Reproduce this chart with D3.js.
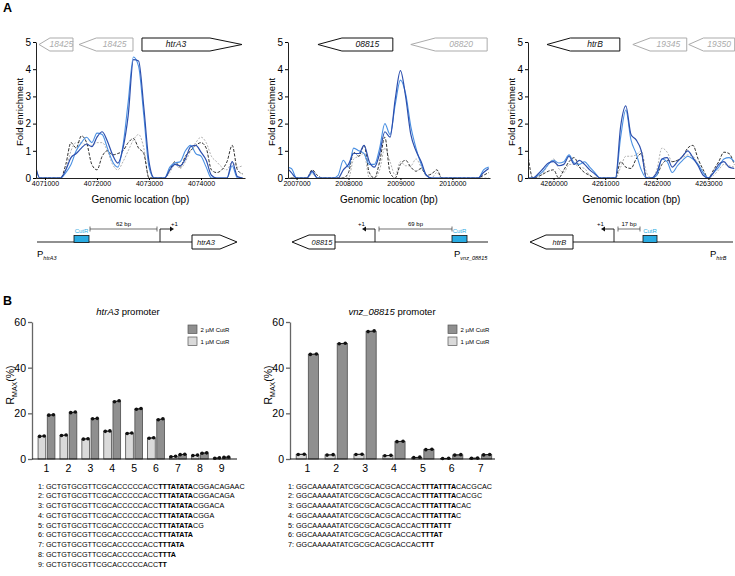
<!DOCTYPE html>
<html>
<head>
<meta charset="utf-8">
<script src="https://cdn.jsdelivr.net/npm/d3@7"></script>
<style>
  body { margin: 0; background: #fff; }
  svg { font-family: "Liberation Sans", Arial, sans-serif; }
</style>
</head>
<body>
<svg id="fig" width="735" height="576"></svg>
<script>
// ---------- data: panel A (ChIP-seq fold enrichment) ----------
const posHtrA3 = [4070800,4070900,4071000,4071100,4071200,4071300,4071400,4071500,4071600,4071700,4071800,4071900,4072000,4072100,4072200,4072300,4072400,4072500,4072600,4072700,4072800,4072900,4073000,4073100,4073200,4073300,4073400,4073500,4073600,4073700,4073800,4073900,4074000,4074100,4074200,4074300,4074400,4074500,4074600,4074700,4074800];
const darkHtrA3  = [0.6,0,0,0,0,0,0.3,0.75,0.9,1.1,1.25,1.15,1.5,1.7,1.35,0.85,0.55,1.1,2.3,4.35,4.3,2.6,0.6,0,0,0,0.3,0.5,0.45,0.7,1.15,1.2,0.95,0.65,0.1,0,0,0,0.6,0.05,0];
const lightHtrA3 = [0.55,0,0,0,0,0,0.2,0.5,1.0,1.3,1.5,1.3,1.65,1.6,1.1,0.6,0.4,1.2,2.8,4.45,4.1,2.3,0.4,0,0,0,0.4,0.55,0.6,1.0,1.2,0.9,0.8,0.4,0,0,0,0,0.45,0,0];
const blackHtrA3 = [0,0,0,0,0,0,0.5,1.3,1.1,1.55,1.3,0.5,0.3,0.8,1.0,0.85,0.9,1.0,1.3,1.45,1.1,0.9,0,0,0,0,0.3,0.6,0.4,0.8,1.0,1.2,1.3,1.1,0.3,0.2,0.3,0.6,1.2,0.3,0.15];
const greyHtrA3  = [0,0,0,0,0,0,0.3,1.0,1.3,1.3,1.2,1.2,1.3,1.3,1.0,0.5,0.3,0.6,1.0,1.4,1.6,1.1,0,0,0,0,0.2,0.5,0.35,0.6,1.0,1.3,1.5,1.3,0.8,0.6,0.4,0.3,0.6,0.4,0.45];
const ticksHtrA3 = [4071000, 4072000, 4073000, 4074000];
const genesHtrA3 = [
  { name: "18425", start: 4070885, end: 4071538, strand: -1, focus: false },
  { name: "18425", start: 4071654, end: 4072692, strand: -1, focus: false },
  { name: "htrA3", start: 4072865, end: 4074788, strand: 1, focus: true }
];

const pos08815 = [2006800,2006900,2007000,2007100,2007200,2007300,2007400,2007500,2007600,2007700,2007800,2007900,2008000,2008100,2008200,2008300,2008400,2008500,2008600,2008700,2008800,2008900,2009000,2009100,2009200,2009300,2009400,2009500,2009600,2009700,2009800,2009900,2010000,2010100,2010200,2010300,2010400,2010500,2010600,2010700];
const dark08815  = [0.4,0.2,0,0,0,0.25,0,0,0,0,0,0.3,0.5,0.9,0.9,1.2,0.6,0.4,0.9,1.7,1.5,2.9,3.95,3.0,1.6,1.0,0.6,0.1,0,0,0,0,0,0,0,0,0,0,0.2,0.35];
const light08815 = [0.4,0.35,0,0,0,0.2,0,0,0,0,0.1,0.65,0.4,1.1,1.0,0.9,0.5,0.5,1.1,2.0,1.6,2.7,3.6,3.1,1.9,1.1,0.5,0.1,0,0,0,0,0,0,0,0,0,0,0.3,0.4];
const black08815 = [0,0,0,0,0,0.3,0.1,0,0,0,0,0,0.2,0.95,0.8,1.2,0.2,0,0.6,1.5,0.2,0,0.5,0.65,0.4,0.25,0.35,0.1,0.15,0.3,0,0,0,0,0,0,0,0,0.1,0.2];
const grey08815  = [0,0,0,0,0,0.15,0,0,0,0,0,0,0,0.7,0.8,0.9,0,0,0.3,1.1,0.6,0.1,0.6,0.45,0.45,0.7,0.4,0.1,0,0.2,0,0,0,0,0,0,0,0,0,0];
const ticks08815 = [2007000, 2008000, 2009000, 2010000];
const genes08815 = [
  { name: "08815", start: 2007412, end: 2008854, strand: -1, focus: true },
  { name: "08820", start: 2009200, end: 2010670, strand: -1, focus: false }
];

const posHtrB = [4259500,4259600,4259700,4259800,4259900,4260000,4260100,4260200,4260300,4260400,4260500,4260600,4260700,4260800,4260900,4261000,4261100,4261200,4261300,4261400,4261500,4261600,4261700,4261800,4261900,4262000,4262100,4262200,4262300,4262400,4262500,4262600,4262700,4262800,4262900,4263000,4263100,4263200,4263300,4263400,4263500];
const darkHtrB  = [0,0,0.15,0.35,0.55,0.6,0.45,0.5,0.8,0.5,0.65,0.5,0.3,0.15,0,0,0,0,1.9,2.65,1.6,1.4,1.0,0,0,0.2,0.7,0.75,0.4,0.6,0.8,1.0,0.75,0.45,0.1,0,0.2,0.5,0.6,0.4,0.35];
const lightHtrB = [0,0,0.1,0.25,0.5,0.65,0.55,0.6,0.85,0.55,0.5,0.6,0.4,0.2,0,0,0,0,1.5,2.5,1.4,0.9,0.3,0,0,0.1,0.7,0.6,0.2,0.45,0.65,0.8,0.7,0.5,0.2,0,0.2,0.4,0.7,0.75,0.6];
const blackHtrB = [0.9,0,0.05,0.15,0.25,0.3,0,0.3,0.6,0.75,0.4,0.2,0.1,0,0,0,0,0,0.6,0.4,0.35,0.7,0.9,0,0,0.1,0.5,0.65,0.6,0.65,0.8,1.1,1.2,0.7,0.3,0,0.3,0.6,0.95,0.9,0.5];
const greyHtrB  = [0,0,0,0.2,0.5,0.7,0.35,0.2,0.5,0.5,0.4,0.35,0.1,0,0,0,0,0,0.4,0.8,0.8,0.85,1.0,0.2,0,0.3,1.1,0.95,0.6,0.65,0.75,0.85,0.8,0.5,0.2,0,0.1,0.3,0.5,0.45,0.4];
const ticksHtrB = [4260000, 4261000, 4262000, 4263000];
const genesHtrB = [
  { name: "htrB", start: 4259873, end: 4261284, strand: -1, focus: true },
  { name: "19345", start: 4261536, end: 4262580, strand: -1, focus: false },
  { name: "19350", start: 4262619, end: 4263509, strand: -1, focus: false }
];

const foldTicks = [0, 1, 2, 3, 4, 5];

// promoter schematics
const spacerBp = [62, 69, 17];

// ---------- data: panel B (SPR, Rmax %) ----------
const catsHtrA3 = ["1","2","3","4","5","6","7","8","9"];
const htrA3_1uM_r1 = [9.9, 10.3, 8.7, 12.1, 11.2, 9.1, 1.0, 1.5, 0.3];
const htrA3_1uM_r2 = [10.1, 10.5, 8.9, 12.3, 11.4, 9.3, 1.2, 1.7, 0.5];
const htrA3_2uM_r1 = [19.2, 20.3, 17.6, 25.1, 21.8, 17.2, 1.9, 2.5, 0.7];
const htrA3_2uM_r2 = [19.4, 20.6, 17.8, 25.5, 22.1, 17.6, 2.1, 2.7, 0.9];

const cats08815 = ["1","2","3","4","5","6","7"];
const v08815_1uM_r1 = [2.0, 1.7, 2.0, 1.4, 0.6, 0.2, 0.3];
const v08815_1uM_r2 = [2.1, 1.9, 2.1, 1.6, 0.8, 0.3, 0.4];
const v08815_2uM_r1 = [45.8, 50.5, 55.8, 7.6, 4.1, 1.7, 1.8];
const v08815_2uM_r2 = [46.0, 50.7, 56.1, 7.8, 4.3, 1.9, 2.0];

const rmaxTicks = [0, 20, 40, 60];
const legendLabels = ["2 \u00b5M CutR", "1 \u00b5M CutR"];

// oligo sequences
const seqHtrA3Core = "GCTGTGCGTTCGCACCCCCACC";
const seqHtrA3Bold = ["TTTATATA","TTTATATA","TTTATATA","TTTATATA","TTTATATA","TTTATATA","TTTATA","TTTA","TT"];
const seqHtrA3Tail = ["CGGACAGAAC","CGGACAGA","CGGACA","CGGA","CG","","","",""];
const seq08815Core = "GGCAAAAATATCGCGCACGCACCAC";
const seq08815Bold = ["TTTATTTA","TTTATTTA","TTTATTTA","TTTATTTA","TTTATTT","TTTAT","TTT"];
const seq08815Tail = ["CACGCAC","CACGC","CAC","C","","",""];

// ---------- drawing ----------
const svg = d3.select("#fig");
const defs = svg.append("defs");

// panel letters
svg.append("text").attr("x", 3).attr("y", 12).attr("font-size", 12.5).attr("font-weight", "bold").text("A");
svg.append("text").attr("x", 3).attr("y", 305).attr("font-size", 12.5).attr("font-weight", "bold").text("B");

const lineStyles = [
  { stroke: "#a8a8a8", dash: "2,1.5", w: 0.9 },
  { stroke: "#1a1a1a", dash: "3,1.5", w: 0.9 },
  { stroke: "#4a90e2", dash: null, w: 1.1 },
  { stroke: "#2c4fae", dash: null, w: 1.2 }
];

function genePath(x0, x1, yTop, h, strand, head) {
  const ym = yTop + h / 2, yb = yTop + h;
  if (strand > 0) {
    return `M${x0},${yTop}L${x1 - head},${yTop}L${x1},${ym}L${x1 - head},${yb}L${x0},${yb}Z`;
  }
  return `M${x0},${ym}L${x0 + head},${yTop}L${x1},${yTop}L${x1},${yb}L${x0 + head},${yb}Z`;
}

function drawGene(g, x0, x1, yTop, h, strand, head, label, color, fs) {
  g.append("path")
    .attr("d", genePath(x0, x1, yTop, h, strand, head))
    .attr("fill", "#fff")
    .attr("stroke", color)
    .attr("stroke-width", 1);
  const cx = strand > 0 ? (x0 + x1 - head) / 2 : (x0 + head + x1) / 2;
  g.append("text")
    .attr("x", cx).attr("y", yTop + h / 2 + fs * 0.35)
    .attr("text-anchor", "middle")
    .attr("font-size", fs).attr("font-style", "italic")
    .attr("fill", color)
    .text(label);
}

function drawProfile(p) {
  const g = svg.append("g");
  const x = d3.scaleLinear().domain(p.domain).range(p.range);
  const y = d3.scaleLinear().domain([0, 5]).range([178, 42]);

  defs.append("clipPath").attr("id", "clip-" + p.id)
    .append("rect")
    .attr("x", p.range[0]).attr("y", 30)
    .attr("width", p.range[1] - p.range[0]).attr("height", 150);

  const plot = g.append("g").attr("clip-path", `url(#clip-${p.id})`);

  // genes across the top
  p.genes.forEach(d => {
    const x0 = x(d.start), x1 = x(d.end);
    const head = Math.min(0.32 * (x1 - x0), 32);
    drawGene(plot, x0, x1, 38, 13, d.strand, head, d.name, d.focus ? "#111" : "#ababab", 8.5);
  });

  const line = d3.line()
    .x((d, i) => x(p.pos[i]))
    .y(d => y(d))
    .curve(d3.curveMonotoneX);

  p.series.forEach((vals, k) => {
    const s = lineStyles[k];
    plot.append("path")
      .attr("d", line(vals))
      .attr("fill", "none")
      .attr("stroke", s.stroke)
      .attr("stroke-width", s.w)
      .attr("stroke-dasharray", s.dash);
  });

  // axes
  const ya = g.append("g")
    .attr("transform", `translate(${p.range[0]},0)`)
    .call(d3.axisLeft(y).tickValues(foldTicks).tickFormat(d3.format("d"))
      .tickSize(3).tickSizeOuter(0).tickPadding(2));
  ya.selectAll("text").attr("font-size", 10).attr("font-family", null);

  const xa = g.append("g")
    .attr("transform", `translate(0,${y(0)})`)
    .call(d3.axisBottom(x).tickValues(p.ticks).tickFormat(d3.format("d")).tickSize(2).tickSizeOuter(0).tickPadding(1.5));
  xa.selectAll("text").attr("font-size", 7).attr("font-family", null);
  g.selectAll(".domain").attr("stroke", "#222");

  g.append("text")
    .attr("transform", `translate(${p.range[0] - 13},${112}) rotate(-90)`)
    .attr("text-anchor", "middle")
    .attr("font-size", 9.5)
    .text("Fold enrichment");

  g.append("text")
    .attr("x", (p.range[0] + p.range[1]) / 2).attr("y", 203)
    .attr("text-anchor", "middle")
    .attr("font-size", 10)
    .text("Genomic location (bp)");
}

drawProfile({ id: "a1", pos: posHtrA3, series: [greyHtrA3, blackHtrA3, lightHtrA3, darkHtrA3],
  domain: [4070827, 4074846], range: [36, 245], ticks: ticksHtrA3, genes: genesHtrA3 });
drawProfile({ id: "a2", pos: pos08815, series: [grey08815, black08815, light08815, dark08815],
  domain: [2006835, 2010725], range: [288, 490], ticks: ticks08815, genes: genes08815 });
drawProfile({ id: "a3", pos: posHtrB, series: [greyHtrB, blackHtrB, lightHtrB, darkHtrB],
  domain: [4259505, 4263515], range: [528, 735], ticks: ticksHtrB, genes: genesHtrB });

// ---------- promoter schematics ----------
const lineY = 242;
const cutrBlue = "#29abe2";

function drawPromoter(c) {
  const g = svg.append("g");
  g.append("line")
    .attr("x1", c.line[0]).attr("x2", c.line[1])
    .attr("y1", lineY).attr("y2", lineY)
    .attr("stroke", "#6b6b6b").attr("stroke-width", 1.6);

  drawGene(g, c.gene[0], c.gene[1], lineY - 7, 14, c.strand, c.gene[2], c.geneName, "#111", 7.5);

  // CutR box
  g.append("rect")
    .attr("x", c.box[0]).attr("y", lineY - 6.5)
    .attr("width", c.box[1] - c.box[0]).attr("height", 7)
    .attr("fill", cutrBlue).attr("stroke", "#111").attr("stroke-width", 0.8);
  g.append("text")
    .attr("x", (c.box[0] + c.box[1]) / 2).attr("y", lineY - 9)
    .attr("text-anchor", "middle").attr("font-size", 6)
    .attr("fill", cutrBlue).text("CutR");

  // spacer bracket
  const by = lineY - 13;
  g.append("path")
    .attr("d", `M${c.bracket[0]},${by - 2.5}V${by + 2.5}M${c.bracket[0]},${by}H${c.bracket[1]}M${c.bracket[1]},${by - 2.5}V${by + 2.5}`)
    .attr("fill", "none").attr("stroke", "#333").attr("stroke-width", 0.7);
  g.append("text")
    .attr("x", (c.bracket[0] + c.bracket[1]) / 2).attr("y", by - 3.5)
    .attr("text-anchor", "middle").attr("font-size", 6)
    .text(c.bp + " bp");

  // TSS arrow
  const ty = lineY - 13;
  const dir = c.tss[1] > c.tss[0] ? 1 : -1;
  g.append("path")
    .attr("d", `M${c.tss[0]},${lineY}V${ty}H${c.tss[1] - dir * 3}`)
    .attr("fill", "none").attr("stroke", "#111").attr("stroke-width", 0.9);
  g.append("path")
    .attr("d", `M${c.tss[1]},${ty}L${c.tss[1] - dir * 4},${ty - 2.5}L${c.tss[1] - dir * 4},${ty + 2.5}Z`)
    .attr("fill", "#111");
  g.append("text")
    .attr("x", c.tss[1] + dir * 0.5).attr("y", ty - 3.5)
    .attr("text-anchor", "middle").attr("font-size", 6)
    .text("+1");

  // promoter label
  const pt = g.append("text").attr("x", c.pLabel).attr("y", lineY + 15).attr("font-size", 9.5);
  pt.append("tspan").text("P");
  pt.append("tspan").attr("font-size", 5.5).attr("font-style", "italic").attr("dy", 2.5).text(c.pSub);
}

drawPromoter({ line: [37, 195], gene: [192, 237, 17], strand: 1, geneName: "htrA3",
  box: [74, 89], bracket: [90, 157], bp: spacerBp[0], tss: [160, 174], pLabel: 37, pSub: "htrA3" });
drawPromoter({ line: [335, 488], gene: [292, 335, 17], strand: -1, geneName: "08815",
  box: [452, 467], bracket: [379, 452], bp: spacerBp[1], tss: [375, 362], pLabel: 454, pSub: "vnz_08815" });
drawPromoter({ line: [573, 733], gene: [530, 573, 16], strand: -1, geneName: "htrB",
  box: [643, 657], bracket: [618, 640], bp: spacerBp[2], tss: [614, 601], pLabel: 710, pSub: "htrB" });

// ---------- bar charts ----------
const barDark = "#8f8f8f", barLight = "#dadada";

function drawBars(c) {
  const g = svg.append("g");
  const y = d3.scaleLinear().domain([0, 60]).range([459, 322]);
  const x = d3.scalePoint().domain(c.cats).range(c.centers);
  const step = x.step();
  const bw = step * 0.35, gap = step * 0.035;

  const groups = [
    { r1: c.low1, r2: c.low2, fill: barLight, off: -gap - bw },
    { r1: c.high1, r2: c.high2, fill: barDark, off: gap }
  ];

  groups.forEach(s => {
    c.cats.forEach((cat, i) => {
      const mean = (s.r1[i] + s.r2[i]) / 2;
      const x0 = x(cat) + s.off;
      g.append("rect")
        .attr("x", x0).attr("y", y(mean))
        .attr("width", bw).attr("height", y(0) - y(mean))
        .attr("fill", s.fill).attr("stroke", "#4d4d4d").attr("stroke-width", 0.8);
      const xa = x0 + bw * 0.2, xb = x0 + bw * 0.8;
      g.append("line")
        .attr("x1", xa).attr("x2", xb)
        .attr("y1", y(s.r1[i])).attr("y2", y(s.r2[i]))
        .attr("stroke", "#111").attr("stroke-width", 0.9);
      g.append("circle").attr("cx", xa).attr("cy", y(s.r1[i])).attr("r", 1.8).attr("fill", "#111");
      g.append("circle").attr("cx", xb).attr("cy", y(s.r2[i])).attr("r", 1.8).attr("fill", "#111");
    });
  });

  const ya = g.append("g")
    .attr("transform", `translate(${c.axisX},0)`)
    .call(d3.axisLeft(y).tickValues(rmaxTicks).tickSize(4).tickSizeOuter(0).tickPadding(2));
  ya.selectAll("text").attr("font-size", 10.5).attr("font-family", null);
  ya.selectAll("line, .domain").attr("stroke", "#666").attr("stroke-width", 1.3);

  g.append("line")
    .attr("x1", c.axisX).attr("x2", c.axisEnd)
    .attr("y1", y(0)).attr("y2", y(0))
    .attr("stroke", "#111").attr("stroke-width", 1);
  c.cats.forEach(cat => {
    g.append("text")
      .attr("x", x(cat)).attr("y", 472)
      .attr("text-anchor", "middle").attr("font-size", 10.5)
      .text(cat);
  });

  // y label
  const yl = g.append("text")
    .attr("transform", `translate(${c.axisX - 18},${385}) rotate(-90)`)
    .attr("text-anchor", "middle").attr("font-size", 10.5);
  yl.append("tspan").text("R");
  yl.append("tspan").attr("font-size", 7).attr("dy", 2.5).text("MAX");
  yl.append("tspan").attr("dy", -2.5).text("(%)");

  // title
  const t = g.append("text")
    .attr("x", c.titleX).attr("y", 315)
    .attr("text-anchor", "middle").attr("font-size", 9.5);
  t.append("tspan").attr("font-style", "italic").text(c.titleGene);
  t.append("tspan").text(" promoter");

  // legend
  [barDark, barLight].forEach((f, i) => {
    g.append("rect")
      .attr("x", c.legendX).attr("y", 325 + i * 12)
      .attr("width", 9).attr("height", 8.5)
      .attr("fill", f).attr("stroke", "#555").attr("stroke-width", 0.7);
    g.append("text")
      .attr("x", c.legendX + 12.5).attr("y", 331.5 + i * 12)
      .attr("font-size", 6).text(legendLabels[i]);
  });
}

drawBars({ cats: catsHtrA3, centers: [46.5, 221.7], axisX: 32, axisEnd: 237,
  low1: htrA3_1uM_r1, low2: htrA3_1uM_r2, high1: htrA3_2uM_r1, high2: htrA3_2uM_r2,
  titleX: 128, titleGene: "htrA3", legendX: 188 });
drawBars({ cats: cats08815, centers: [307.3, 480.6], axisX: 290, axisEnd: 495,
  low1: v08815_1uM_r1, low2: v08815_1uM_r2, high1: v08815_2uM_r1, high2: v08815_2uM_r2,
  titleX: 392, titleGene: "vnz_08815", legendX: 448 });

// ---------- sequences ----------
function drawSeqs(x0, core, bold, tail) {
  const g = svg.append("g").attr("font-size", 7.2);
  bold.forEach((b, i) => {
    const t = g.append("text").attr("x", x0).attr("y", 488.5 + i * 9.75);
    t.append("tspan").text(`${i + 1}: ${core}`);
    t.append("tspan").attr("font-weight", "bold").text(b);
    if (tail[i]) t.append("tspan").text(tail[i]);
  });
}
drawSeqs(38, seqHtrA3Core, seqHtrA3Bold, seqHtrA3Tail);
drawSeqs(288, seq08815Core, seq08815Bold, seq08815Tail);
</script>
</body>
</html>
